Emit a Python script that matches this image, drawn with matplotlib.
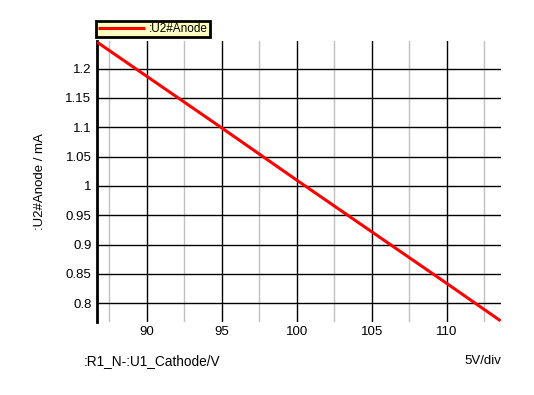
import numpy as np
import matplotlib
matplotlib.use("Agg")
import matplotlib.pyplot as plt
from matplotlib.ticker import MultipleLocator

plt.rcParams['font.family'] = ['Liberation Sans', 'DejaVu Sans']

# data
voltage = [86.7, 90, 95, 100, 105, 110, 113.6]
current = [1.245, 1.187, 1.099, 1.010, 0.922, 0.834, 0.770]

x_label = ":R1_N-:U1_Cathode/V"
y_label = ":U2#Anode / mA"
series_name = ":U2#Anode"
div_text = "5V/div"

W, H = 534, 395
fig = plt.figure(figsize=(W / 100, H / 100), dpi=100)
ax = fig.add_axes([97 / W, 1 - 322 / H, (501 - 97) / W, (322 - 41) / H])

line, = ax.plot(voltage, current, color='#ff0000', lw=2.2, label=series_name,
                solid_capstyle='butt', zorder=5)

ax.set_xlim(86.69, 113.63)
ax.set_ylim(0.768, 1.247)

ax.xaxis.set_major_locator(MultipleLocator(5))
ax.xaxis.set_minor_locator(MultipleLocator(2.5))
ax.yaxis.set_major_locator(MultipleLocator(0.05))
ax.yaxis.set_major_formatter(plt.FuncFormatter(lambda v, p: f"{v:.2f}".rstrip('0').rstrip('.')))

ax.grid(which='major', axis='both', color='black', lw=1)
ax.grid(which='minor', axis='x', color='#c0c0c0', lw=1)
ax.set_axisbelow(True)

for s in ['top', 'right', 'bottom']:
    ax.spines[s].set_visible(False)
ax.spines['left'].set_linewidth(2)
ax.spines['left'].set_color('black')

ax.tick_params(which='both', length=0, labelsize=9.5, colors='black')
ax.tick_params(axis='y', pad=4)
ax.tick_params(axis='x', pad=3)

fig.text(40 / W, 1 - 182 / H, y_label, rotation=90, ha='center', va='center', fontsize=9.5)
fig.text(84 / W, 1 - 361 / H, x_label, ha='left', va='center', fontsize=9.8)
fig.text(501 / W, 1 - 361 / H, div_text, ha='right', va='center', fontsize=9.5)

leg = ax.legend(handles=[line], loc='lower left',
                bbox_to_anchor=(96 / W, 1 - 37 / H), bbox_transform=fig.transFigure,
                borderaxespad=0, borderpad=0.15, handlelength=4.0, handletextpad=0.35,
                fancybox=False, framealpha=1, facecolor='#ffffc0', edgecolor='black',
                fontsize=8.5)
leg.get_frame().set_linewidth(2)

fig.savefig("out.png", dpi=100)
